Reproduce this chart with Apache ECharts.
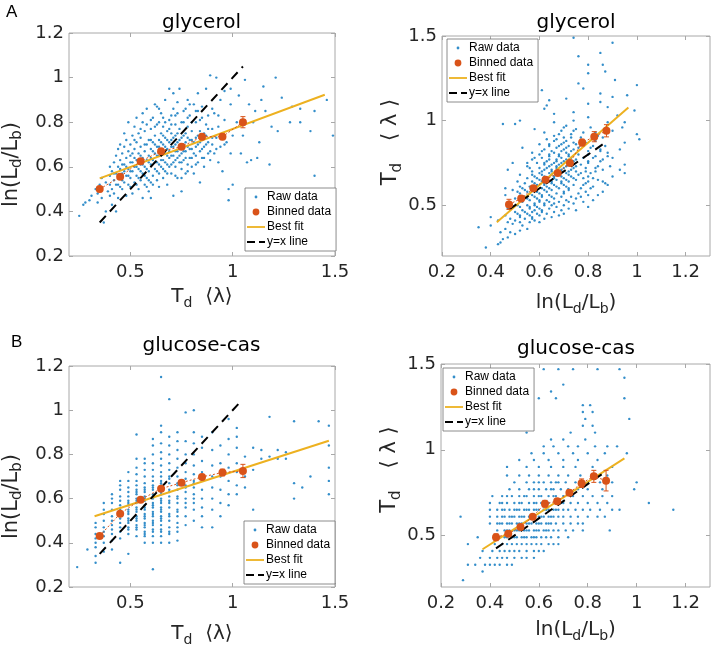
<!DOCTYPE html>
<html><head><meta charset="utf-8">
<script src="https://cdn.jsdelivr.net/npm/echarts@6/dist/echarts.min.js"></script>
<style>html,body{margin:0;padding:0;background:#fff}#c{width:712px;height:651px}</style>
</head><body><div id="c"></div>
<script>
// ---------- tick labels ----------
const leftXTicks = [0.5, 1, 1.5];
const leftYTicks = [0.2, 0.4, 0.6, 0.8, 1, 1.2];
const rightXTicks = [0.2, 0.4, 0.6, 0.8, 1, 1.2];
const rightYTicks = [0.5, 1, 1.5];
const panelTitles = ['glycerol', 'glycerol', 'glucose-cas', 'glucose-cas'];
const panelLetters = ['A', 'B'];

// ---------- raw data: [Td<λ>, ln(Ld/Lb)] ----------
const glycerolRaw = [
[0.25,0.38],[0.28,0.44],[0.27,0.43],[0.30,0.45],[0.31,0.47],[0.33,0.50],[0.34,0.48],[0.35,0.52],[0.36,0.46],[0.37,0.35],[0.38,0.40],[0.36,0.55],[0.34,0.44],[0.38,0.53],[0.39,0.49],
[0.40,0.47],[0.40,0.52],[0.40,0.56],[0.40,0.60],[0.41,0.43],[0.41,0.50],[0.41,0.58],[0.42,0.54],[0.42,0.62],[0.42,0.48],[0.43,0.40],[0.43,0.57],[0.43,0.65],[0.44,0.52],[0.44,0.60],[0.44,0.68],[0.44,0.46],
[0.45,0.55],[0.45,0.59],[0.45,0.63],[0.45,0.70],[0.46,0.50],[0.46,0.57],[0.46,0.66],[0.47,0.53],[0.47,0.61],[0.47,0.69],[0.47,0.75],[0.48,0.47],[0.48,0.56],[0.48,0.64],[0.48,0.72],[0.49,0.59],[0.49,0.67],[0.49,0.52],[0.49,0.80],
[0.50,0.55],[0.50,0.62],[0.50,0.70],[0.50,0.65],[0.51,0.48],[0.51,0.58],[0.51,0.66],[0.51,0.74],[0.52,0.53],[0.52,0.60],[0.52,0.68],[0.52,0.78],[0.53,0.56],[0.53,0.63],[0.53,0.71],[0.53,0.82],[0.54,0.50],[0.54,0.59],[0.54,0.66],[0.54,0.75],
[0.55,0.54],[0.55,0.61],[0.55,0.69],[0.55,0.73],[0.56,0.46],[0.56,0.57],[0.56,0.64],[0.56,0.80],[0.57,0.52],[0.57,0.60],[0.57,0.67],[0.57,0.76],[0.58,0.55],[0.58,0.63],[0.58,0.70],[0.58,0.86],[0.59,0.58],[0.59,0.65],[0.59,0.72],[0.59,0.49],
[0.60,0.53],[0.60,0.61],[0.60,0.68],[0.60,0.77],[0.60,0.46],[0.61,0.56],[0.61,0.63],[0.61,0.71],[0.61,0.82],[0.62,0.59],[0.62,0.66],[0.62,0.74],[0.62,0.88],[0.63,0.54],[0.63,0.62],[0.63,0.69],[0.63,0.79],[0.64,0.57],[0.64,0.65],[0.64,0.72],[0.64,0.51],
[0.65,0.60],[0.65,0.67],[0.65,0.75],[0.65,0.84],[0.66,0.55],[0.66,0.63],[0.66,0.70],[0.66,0.78],[0.67,0.58],[0.67,0.66],[0.67,0.73],[0.67,0.90],[0.68,0.61],[0.68,0.68],[0.68,0.76],[0.68,0.52],[0.69,0.64],[0.69,0.71],[0.69,0.81],[0.69,0.95],
[0.70,0.57],[0.70,0.65],[0.70,0.72],[0.70,0.79],[0.71,0.47],[0.71,0.62],[0.71,0.69],[0.71,0.86],[0.72,0.60],[0.72,0.67],[0.72,0.74],[0.72,0.83],[0.73,0.55],[0.73,0.64],[0.73,0.71],[0.73,0.89],[0.74,0.62],[0.74,0.68],[0.74,0.77],[0.74,0.95],[0.75,0.49],
[0.75,0.59],[0.75,0.66],[0.75,0.73],[0.76,0.63],[0.76,0.70],[0.76,0.80],[0.77,0.57],[0.77,0.67],[0.77,0.75],[0.77,0.86],[0.78,0.61],[0.78,0.69],[0.78,0.78],[0.79,0.64],[0.79,0.72],[0.79,0.83],
[0.80,0.60],[0.80,0.68],[0.80,0.76],[0.81,0.57],[0.81,0.71],[0.81,0.88],[0.82,0.65],[0.82,0.73],[0.82,0.80],[0.83,0.62],[0.83,0.70],[0.83,0.85],[0.84,0.53],[0.84,0.67],[0.84,0.76],[0.85,0.64],[0.85,0.72],[0.85,0.82],[0.86,0.69],[0.86,0.60],[0.87,0.74],[0.87,0.79],[0.88,0.66],[0.88,0.71],[0.89,0.63],[0.89,1.01],
[0.90,0.70],[0.90,0.77],[0.91,0.66],[0.91,0.84],[0.92,1.00],[0.92,0.73],[0.93,0.62],[0.93,0.78],[0.94,0.69],[0.95,0.75],[0.95,0.58],[0.96,0.81],[0.97,0.71],[0.98,0.45],[0.98,0.50],[0.99,0.66],[0.99,0.88],[1.00,0.74],[1.00,0.52],
[1.02,0.80],[1.04,0.66],[1.06,0.99],[1.07,0.62],[1.09,0.63],[1.12,0.64],[1.13,0.71],[1.15,0.96],[1.16,0.85],[1.19,0.78],[1.21,1.00],[1.22,0.76],[1.24,0.91],[1.28,0.80],[1.29,0.87],[1.33,0.86],[1.33,0.80],[1.38,0.76],[1.40,0.85],[1.40,0.56],[1.46,0.90],[1.49,0.74],[1.10,0.80],[1.05,0.74],[1.18,0.61],
[0.46,0.61],[0.47,0.58],[0.48,0.60],[0.50,0.58],[0.51,0.62],[0.52,0.64],[0.53,0.60],[0.55,0.65],[0.56,0.61],[0.57,0.70],[0.58,0.59],[0.59,0.62],[0.60,0.64],[0.60,0.72],[0.61,0.67],[0.62,0.62],[0.62,0.70],[0.63,0.65],[0.64,0.69],[0.64,0.61],
[0.65,0.63],[0.65,0.71],[0.66,0.66],[0.66,0.74],[0.67,0.62],[0.67,0.69],[0.68,0.65],[0.68,0.72],[0.69,0.60],[0.69,0.67],[0.70,0.69],[0.70,0.75],[0.71,0.65],[0.71,0.73],[0.72,0.63],[0.72,0.70],[0.73,0.67],[0.73,0.75],[0.74,0.65],[0.74,0.72],
[0.75,0.69],[0.75,0.62],[0.76,0.67],[0.76,0.74],[0.77,0.71],[0.77,0.64],[0.78,0.73],[0.79,0.68],[0.80,0.72],[0.80,0.64],[0.81,0.66],[0.82,0.69],[0.83,0.74],[0.84,0.71],[0.85,0.68],[0.86,0.75],[0.87,0.70],[0.88,0.77],[0.90,0.73],[0.92,0.68],[0.94,0.74],[0.96,0.70],
[0.42,0.57],[0.43,0.52],[0.44,0.56],[0.45,0.51],[0.46,0.54],[0.49,0.56],[0.50,0.51],[0.53,0.52],[0.54,0.55],[0.55,0.58],[0.57,0.56],[0.58,0.51],[0.59,0.54],[0.61,0.52],[0.63,0.58],[0.66,0.59],[0.68,0.57],[0.70,0.61],[0.72,0.56],[0.75,0.55],[0.78,0.58],[0.82,0.61],[0.86,0.64],[0.89,0.67],
[0.52,0.72],[0.55,0.77],[0.58,0.79],[0.60,0.81],[0.62,0.78],[0.64,0.80],[0.64,0.86],[0.66,0.82],[0.67,0.80],[0.69,0.77],[0.70,0.83],[0.72,0.79],[0.73,0.84],[0.75,0.80],[0.76,0.85],[0.78,0.82],[0.79,0.88],[0.80,0.80],[0.82,0.85],[0.84,0.81],[0.85,0.87],[0.88,0.83],[0.90,0.86],[0.93,0.83],
[0.56,0.84],[0.63,0.87],[0.71,0.93],[0.78,0.90],[0.83,0.93],[0.87,0.95],[0.94,0.90],[0.96,0.94],[0.99,0.95],[1.03,0.92],[1.08,0.88],[1.11,0.85],[1.14,0.90]
];

const glucoseRaw = [
[0.24,0.29],[0.29,0.37],
[0.33,0.31],[0.33,0.34],[0.33,0.38],[0.33,0.40],[0.33,0.42],[0.33,0.44],[0.33,0.47],[0.33,0.49],
[0.37,0.36],[0.37,0.40],[0.37,0.43],[0.37,0.45],[0.37,0.47],[0.37,0.50],[0.37,0.53],[0.37,0.55],[0.37,0.58],
[0.41,0.37],[0.41,0.41],[0.41,0.44],[0.41,0.46],[0.41,0.48],[0.41,0.50],[0.41,0.52],[0.41,0.55],[0.41,0.58],[0.41,0.60],[0.41,0.62],
[0.45,0.31],[0.45,0.42],[0.45,0.45],[0.45,0.47],[0.45,0.49],[0.45,0.51],[0.45,0.53],[0.45,0.55],[0.45,0.57],[0.45,0.59],[0.45,0.61],[0.45,0.64],[0.45,0.66],[0.45,0.68],
[0.49,0.35],[0.49,0.44],[0.49,0.47],[0.49,0.49],[0.49,0.51],[0.49,0.53],[0.49,0.55],[0.49,0.57],[0.49,0.59],[0.49,0.61],[0.49,0.63],[0.49,0.65],[0.49,0.68],[0.49,0.72],
[0.53,0.89],[0.53,0.43],[0.53,0.46],[0.53,0.48],[0.53,0.50],[0.53,0.52],[0.53,0.54],[0.53,0.56],[0.53,0.58],[0.53,0.60],[0.53,0.62],[0.53,0.64],[0.53,0.66],[0.53,0.68],[0.53,0.71],[0.53,0.74],[0.53,0.78],
[0.57,0.40],[0.57,0.43],[0.57,0.45],[0.57,0.47],[0.57,0.49],[0.57,0.51],[0.57,0.53],[0.57,0.55],[0.57,0.57],[0.57,0.59],[0.57,0.61],[0.57,0.63],[0.57,0.65],[0.57,0.67],[0.57,0.70],[0.57,0.73],[0.57,0.76],[0.57,0.78],
[0.61,0.28],[0.61,0.40],[0.61,0.43],[0.61,0.46],[0.61,0.48],[0.61,0.50],[0.61,0.52],[0.61,0.54],[0.61,0.56],[0.61,0.58],[0.61,0.60],[0.61,0.62],[0.61,0.64],[0.61,0.66],[0.61,0.68],[0.61,0.70],[0.61,0.73],[0.61,0.76],[0.61,0.80],[0.61,0.84],[0.61,0.87],
[0.65,0.40],[0.65,0.43],[0.65,0.45],[0.65,0.48],[0.65,0.50],[0.65,0.52],[0.65,0.54],[0.65,0.56],[0.65,0.58],[0.65,0.60],[0.65,0.62],[0.65,0.64],[0.65,0.66],[0.65,0.68],[0.65,0.70],[0.65,0.72],[0.65,0.75],[0.65,0.78],[0.65,0.81],[0.65,0.85],[0.65,0.90],[0.65,0.93],[0.65,1.15],
[0.69,0.40],[0.69,0.44],[0.69,0.47],[0.69,0.50],[0.69,0.53],[0.69,0.56],[0.69,0.59],[0.69,0.61],[0.69,0.64],[0.69,0.67],[0.69,0.70],[0.69,0.73],[0.69,0.76],[0.69,0.80],[0.69,0.84],[0.69,0.88],[0.69,1.05],
[0.73,0.41],[0.73,0.45],[0.73,0.49],[0.73,0.52],[0.73,0.55],[0.73,0.58],[0.73,0.61],[0.73,0.64],[0.73,0.67],[0.73,0.70],[0.73,0.74],[0.73,0.78],[0.73,0.82],[0.73,0.86],[0.73,0.90],
[0.77,0.48],[0.77,0.52],[0.77,0.56],[0.77,0.60],[0.77,0.63],[0.77,0.66],[0.77,0.69],[0.77,0.72],[0.77,0.76],[0.77,0.80],[0.77,0.86],[0.77,0.99],
[0.81,0.50],[0.81,0.55],[0.81,0.58],[0.81,0.62],[0.81,0.65],[0.81,0.68],[0.81,0.71],[0.81,0.75],[0.81,0.80],[0.81,0.85],[0.81,0.90],[0.81,1.00],
[0.85,0.47],[0.85,0.52],[0.85,0.56],[0.85,0.60],[0.85,0.64],[0.85,0.68],[0.85,0.72],[0.85,0.77],[0.85,0.83],[0.85,0.88],
[0.90,0.47],[0.90,0.55],[0.90,0.60],[0.90,0.65],[0.90,0.70],[0.90,0.75],[0.90,0.82],[0.90,0.90],
[0.94,0.52],[0.94,0.58],[0.94,0.64],[0.94,0.70],[0.94,0.76],[0.94,0.84],
[0.98,0.57],[0.98,0.62],[0.98,0.68],[0.98,0.74],[0.98,0.80],[0.98,0.87],[0.98,0.96],
[1.02,0.62],[1.02,0.66],[1.02,0.72],[1.02,0.76],[1.02,0.83],[1.02,0.88],[1.02,0.92],
[1.06,0.65],[1.06,0.70],[1.06,0.79],[1.10,0.55],[1.10,0.73],[1.10,0.83],[1.14,0.82],[1.14,0.78],[1.18,0.79],[1.18,0.97],
[1.22,0.78],[1.22,0.82],[1.26,0.78],[1.26,0.81],[1.30,0.60],[1.30,0.67],[1.30,0.95],[1.34,0.65],[1.38,0.70],
[1.42,0.95],[1.47,0.93],[1.47,0.84],[1.47,0.74],[1.47,0.68],[1.47,0.62],
[0.49,0.46],[0.49,0.50],[0.49,0.54],[0.49,0.58],[0.53,0.47],[0.53,0.51],[0.53,0.55],[0.53,0.59],[0.53,0.63],
[0.57,0.44],[0.57,0.48],[0.57,0.52],[0.57,0.56],[0.57,0.60],[0.57,0.64],[0.61,0.45],[0.61,0.49],[0.61,0.53],[0.61,0.57],[0.61,0.61],[0.61,0.65],
[0.65,0.46],[0.65,0.51],[0.65,0.55],[0.65,0.59],[0.65,0.63],[0.65,0.67],[0.69,0.45],[0.69,0.52],[0.69,0.58],[0.69,0.63],[0.69,0.69],
[0.73,0.47],[0.73,0.54],[0.73,0.60],[0.73,0.66],[0.77,0.58],[0.77,0.65],[0.81,0.60],[0.81,0.67]
];

// ---------- binned data ----------
const glyBinLeftTd  = [0.35, 0.45, 0.55, 0.65, 0.75, 0.85, 0.95, 1.05];
const glyBinLeftLn  = [0.50, 0.555, 0.625, 0.67, 0.69, 0.735, 0.735, 0.80];
const glyBinLeftErr = [0.012, 0.008, 0.008, 0.007, 0.008, 0.010, 0.013, 0.025];
const glyBinRightLn  = [0.475, 0.525, 0.575, 0.625, 0.675, 0.725, 0.775, 0.825, 0.875];
const glyBinRightTd  = [0.505, 0.54, 0.60, 0.65, 0.69, 0.75, 0.87, 0.905, 0.94];
const glyBinRightErr = [0.03, 0.015, 0.012, 0.012, 0.012, 0.015, 0.02, 0.03, 0.036];
const glcBinLeftTd  = [0.35, 0.45, 0.55, 0.65, 0.75, 0.85, 0.95, 1.05];
const glcBinLeftLn  = [0.431, 0.532, 0.595, 0.645, 0.672, 0.698, 0.718, 0.725];
const glcBinLeftErr = [0.008, 0.008, 0.007, 0.006, 0.007, 0.008, 0.015, 0.03];
const glcBinRightLn  = [0.425, 0.475, 0.525, 0.575, 0.625, 0.675, 0.725, 0.775, 0.825, 0.875];
const glcBinRightTd  = [0.49, 0.51, 0.55, 0.61, 0.685, 0.70, 0.75, 0.805, 0.845, 0.82];
const glcBinRightErr = [0.02, 0.012, 0.012, 0.012, 0.02, 0.012, 0.015, 0.025, 0.035, 0.06];

// ---------- best fit lines (end points) ----------
const glyFitLeftTd = [0.35, 1.45],  glyFitLeftLn = [0.548, 0.923];
const glyFitRightLn = [0.425, 0.965], glyFitRightTd = [0.40, 1.078];
const glcFitLeftTd = [0.325, 1.47], glcFitLeftLn = [0.52, 0.862];
const glcFitRightLn = [0.37, 0.95], glcFitRightTd = [0.42, 0.95];

// ---------- y = x line extents ----------
const glyIdLeft = [0.35, 1.05], glyIdRight = [0.475, 0.875];
const glcIdLeft = [0.35, 1.04], glcIdRight = [0.425, 0.865];

// ---------- styling ----------
const C_RAW = '#0072BD', C_BIN = '#D95319', C_FIT = '#EDB120';
const AX_C = '#a8a8a8', TXT_C = '#262626';
const FONT = 'DejaVu Sans';

const nameRich = {
  m: {fontFamily: FONT, fontSize: 20, color: TXT_C, lineHeight: 26},
  s: {fontFamily: FONT, fontSize: 14, color: TXT_C, lineHeight: 12, verticalAlign: 'bottom'},
  g: {width: 22}
};
const nameRichV = {
  m: {fontFamily: FONT, fontSize: 21, color: TXT_C, lineHeight: 27},
  s: {fontFamily: FONT, fontSize: 15, color: TXT_C, lineHeight: 12, verticalAlign: 'bottom'},
  g: {width: 22}
};
const tdName = '{m|T}{s|d}{m|  \u27E8\u03BB\u27E9}';
const tdNameV = '{m|T}{s|d}{g|}{m|\u27E8 \u03BB \u27E9}';
const lnName = '{m|ln(L}{s|d}{m|/L}{s|b}{m|)}';

const grids = [
  {left: 68, top: 33, width: 267, height: 223},
  {left: 442, top: 36, width: 268, height: 220},
  {left: 68, top: 366, width: 267, height: 221},
  {left: 441, top: 364, width: 269, height: 223}
].map(g => Object.assign({show: true, borderColor: AX_C, borderWidth: 1, backgroundColor: 'transparent'}, g));

function axisPair(dim, g, min, max, ticks, name, nameGap, pad, rich) {
  const main = {
    type: 'value', gridIndex: g, min, max,
    position: dim === 'x' ? 'bottom' : 'left',
    axisLine: {show: false}, splitLine: {show: false},
    axisTick: {show: true, inside: true, length: 4, customValues: ticks, lineStyle: {color: AX_C}},
    axisLabel: {customValues: ticks, margin: dim === 'x' ? 7 : 5, color: TXT_C, fontFamily: FONT, fontSize: 18},
    name, nameLocation: 'middle', nameGap,
    nameTextStyle: {rich: rich || nameRich, padding: pad || 0}
  };
  if (dim === 'y') main.nameRotate = 90;
  const twin = {
    type: 'value', gridIndex: g, min, max,
    position: dim === 'x' ? 'top' : 'right',
    axisLine: {show: false}, splitLine: {show: false},
    axisTick: {show: true, inside: true, length: 4, customValues: ticks, lineStyle: {color: AX_C}},
    axisLabel: {show: false}
  };
  return [main, twin];
}

const xAxis = [].concat(
  axisPair('x', 0, 0.2, 1.5, leftXTicks, tdName, 28),
  axisPair('x', 1, 0.2, 1.3, rightXTicks, lnName, 34),
  axisPair('x', 2, 0.2, 1.5, leftXTicks, tdName, 34),
  axisPair('x', 3, 0.2, 1.3, rightXTicks, lnName, 30)
);
const yAxis = [].concat(
  axisPair('y', 0, 0.2, 1.2, leftYTicks, lnName, 44, [0, 40, 0, 0], nameRichV),
  axisPair('y', 1, 0.2, 1.5, rightYTicks, tdNameV, 37, [0, 0, 0, 8], nameRichV),
  axisPair('y', 2, 0.2, 1.2, leftYTicks, lnName, 44, [0, 40, 0, 0], nameRichV),
  axisPair('y', 3, 0.2, 1.5, rightYTicks, tdNameV, 37, [0, 0, 0, 12], nameRichV)
);

function errRender(params, api) {
  const x = api.value(0), y = api.value(1), e = api.value(2);
  const t = api.coord([x, y + e]), b = api.coord([x, y - e]);
  const cw = 2.5, st = {stroke: C_BIN, lineWidth: 1};
  return {type: 'group', children: [
    {type: 'line', shape: {x1: t[0], y1: t[1], x2: b[0], y2: b[1]}, style: st},
    {type: 'line', shape: {x1: t[0] - cw, y1: t[1], x2: t[0] + cw, y2: t[1]}, style: st},
    {type: 'line', shape: {x1: b[0] - cw, y1: b[1], x2: b[0] + cw, y2: b[1]}, style: st}
  ]};
}

const panels = [
  {raw: glycerolRaw, swap: false, bx: glyBinLeftTd, by: glyBinLeftLn, be: glyBinLeftErr, fx: glyFitLeftTd, fy: glyFitLeftLn, id: glyIdLeft},
  {raw: glycerolRaw, swap: true, bx: glyBinRightLn, by: glyBinRightTd, be: glyBinRightErr, fx: glyFitRightLn, fy: glyFitRightTd, id: glyIdRight},
  {raw: glucoseRaw, swap: false, bx: glcBinLeftTd, by: glcBinLeftLn, be: glcBinLeftErr, fx: glcFitLeftTd, fy: glcFitLeftLn, id: glcIdLeft},
  {raw: glucoseRaw, swap: true, bx: glcBinRightLn, by: glcBinRightTd, be: glcBinRightErr, fx: glcFitRightLn, fy: glcFitRightTd, id: glcIdRight}
];

const series = [];
panels.forEach((p, i) => {
  const ax = {xAxisIndex: 2 * i, yAxisIndex: 2 * i};
  series.push(Object.assign({
    name: 'Raw data', type: 'scatter', data: p.raw, encode: p.swap ? {x: 1, y: 0} : {x: 0, y: 1},
    symbol: 'circle', symbolSize: 2.4, itemStyle: {color: C_RAW}, z: 1, silent: true
  }, ax));
  series.push(Object.assign({
    name: 'Best fit', type: 'line', data: p.fx.map((v, k) => [v, p.fy[k]]),
    symbol: 'none', lineStyle: {color: C_FIT, width: 2}, itemStyle: {color: C_FIT}, z: 2, silent: true
  }, ax));
  series.push(Object.assign({
    name: 'y=x line', type: 'line', data: p.id.map(v => [v, v]),
    symbol: 'none', lineStyle: {color: '#000', width: 2, type: [9, 6]}, itemStyle: {color: '#000'}, z: 3, silent: true
  }, ax));
  series.push(Object.assign({
    name: 'errbar', type: 'custom', renderItem: errRender,
    data: p.bx.map((v, k) => [v, p.by[k], p.be[k]]), z: 4, silent: true
  }, ax));
  series.push(Object.assign({
    name: 'Binned data', type: 'line', data: p.bx.map((v, k) => [v, p.by[k]]),
    symbol: 'circle', symbolSize: 8, showSymbol: true,
    lineStyle: {color: C_BIN, width: 1, type: [2, 2]}, itemStyle: {color: C_BIN}, z: 5, silent: true
  }, ax));
});

const dotSmall = 'path://M0,0M18,10M7.6,5a1.4,1.4 0 1,0 2.8,0a1.4,1.4 0 1,0 -2.8,0z';
const dotBig = 'path://M0,0M18,10M5.6,5a3.4,3.4 0 1,0 6.8,0a3.4,3.4 0 1,0 -6.8,0z';
const fitIcon = 'path://M0,0M18,10M0,4.1h18v1.8h-18z';
const dashIcon = 'path://M0,0M18,10M0,4h8v2h-8zM12,4h6v2h-6z';
const legendData = [
  {name: 'Raw data', icon: dotSmall},
  {name: 'Binned data', icon: dotBig},
  {name: 'Best fit', icon: fitIcon},
  {name: 'y=x line', icon: dashIcon}
];
const legendPos = [[245, 188], [447, 39], [244, 521], [443, 368]];
const legend = legendPos.map(pos => ({
  left: pos[0], top: pos[1], orient: 'vertical', data: legendData,
  itemWidth: 18, itemHeight: 10, itemGap: 3, padding: [3, 5, 3, 2],
  backgroundColor: '#fff', borderColor: '#6e6e6e', borderWidth: 0.8, borderRadius: 0,
  selectedMode: false,
  textStyle: {fontFamily: 'Liberation Sans', fontSize: 12, color: '#000', padding: [0, 0, 0, -3]}
}));

const titleCenters = [[201.5, 13], [576, 13], [201.5, 336], [576, 339]];
const title = titleCenters.map((c, i) => ({
  text: panelTitles[i], left: c[0], top: c[1], textAlign: 'center', padding: 0,
  textStyle: {fontFamily: FONT, fontSize: 20, fontWeight: 'normal', color: '#000'}
})).concat([
  {text: panelLetters[0], left: 6, top: 4, padding: 0, textStyle: {fontFamily: 'Liberation Sans', fontSize: 17, fontWeight: 'normal', color: '#000'}},
  {text: panelLetters[1], left: 11, top: 334, padding: 0, textStyle: {fontFamily: 'Liberation Sans', fontSize: 17, fontWeight: 'normal', color: '#000'}}
]);

const chart = echarts.init(document.getElementById('c'), null, {renderer: 'canvas'});
chart.setOption({
  animation: false,
  backgroundColor: '#fff',
  title, legend, grid: grids, xAxis, yAxis, series
});
</script></body></html>
